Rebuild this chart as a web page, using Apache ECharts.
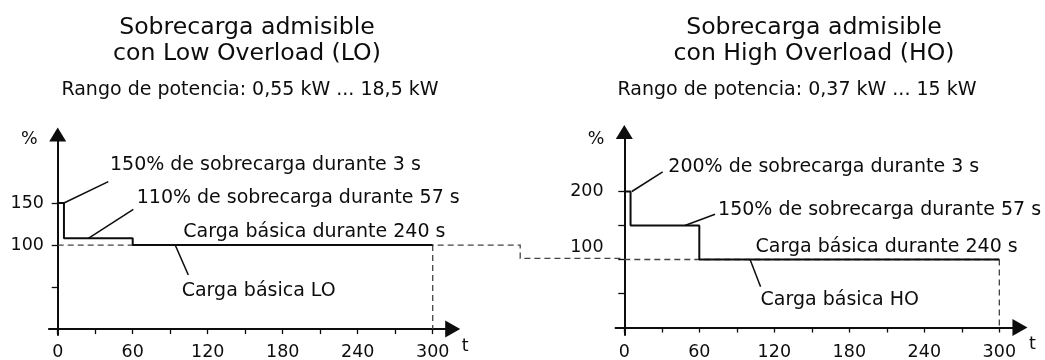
<!DOCTYPE html>
<html>
<head>
<meta charset="utf-8">
<script src="https://cdn.jsdelivr.net/npm/echarts@6/dist/echarts.min.js"></script>
<style>html,body{margin:0;padding:0;background:#fff}#c{width:1045px;height:360px}</style>
</head>
<body>
<div id="c"></div>
<script>
// ---- data ----
const xTickValues = [0, 30, 60, 90, 120, 150, 180, 210, 240, 270, 300];
const xLabelValues = [0, 60, 120, 180, 240, 300];
const loYTickValues = [50, 100, 150];
const loYLabelValues = [100, 150];
const hoYTickValues = [50, 100, 150, 200];
const hoYLabelValues = [100, 200];

const loTime = [0, 5, 5, 60, 60, 300];
const loLoad = [150, 150, 108, 108, 100, 100];
const hoTime = [0, 5, 5, 60, 60, 300];
const hoLoad = [200, 200, 150, 150, 100, 100];

// dashed base-load line of LO, running on into the HO chart
const loBaseTime = [0, 370, 370, 453.3];
const loBaseLoad = [100, 100, 84.2, 84.2];
const hoBaseTime = [0, 300];
const hoBaseLoad = [100, 100];
const cycleEndTime = [300, 300];
const loCycleLoad = [100, 0];
const hoCycleLoad = [100, 0];

// annotations (data-space anchors)
const loNoteText = ['150% de sobrecarga durante 3 s', '110% de sobrecarga durante 57 s', 'Carga básica durante 240 s', 'Carga básica LO'];
const loNoteAt = [[41.8, 195.2], [63.2, 156], [100.5, 115.5], [99.2, 45.2]];
const loLeaders = [[[5, 150], [40.5, 175.4]], [[24.5, 108], [60.5, 142.5]], [[94, 100], [104.5, 64.3]]];
const hoNoteText = ['200% de sobrecarga durante 3 s', '150% de sobrecarga durante 57 s', 'Carga básica durante 240 s', 'Carga básica HO'];
const hoNoteAt = [[35.2, 236], [75, 172], [105, 118.4], [109, 40.4]];
const hoLeaders = [[[6, 200], [30.7, 229]], [[48.5, 150], [72.6, 166.5]], [[100.6, 100], [109, 60]]];

const FONT = 'DejaVu Sans';
const INK = '#0d0d0d';

function zip(a, b) { return a.map((v, i) => [v, b[i]]); }

function xAxisDef(gi, max) {
  return {
    type: 'value', gridIndex: gi, min: -7, max: max,
    name: 't', nameLocation: 'end', nameGap: 9,
    nameTextStyle: { fontFamily: FONT, fontSize: 17.5, color: INK, align: 'left', verticalAlign: 'top', padding: [8, 0, 0, 0] },
    axisLine: { show: true, onZero: true, symbol: ['none', 'triangle'], symbolSize: [17, 15], lineStyle: { color: INK, width: 2 } },
    axisTick: { show: true, customValues: xTickValues, length: 5, lineStyle: { color: INK, width: 1.3 } },
    axisLabel: { show: true, customValues: xLabelValues, margin: 8, fontFamily: FONT, fontSize: 17.5, color: INK },
    splitLine: { show: false }
  };
}
function yAxisDef(gi, min, max, ticks, labels, labelMargin, nameGap, raisedLabel) {
  return {
    type: 'value', gridIndex: gi, min: min, max: max,
    name: '%', nameLocation: 'end', nameGap: nameGap,
    nameTextStyle: { fontFamily: FONT, fontSize: 17.5, color: INK, align: 'right', verticalAlign: 'middle', padding: [0, 20, 0, 0] },
    axisLine: { show: true, onZero: true, symbol: ['none', 'triangle'], symbolSize: [17, 14], lineStyle: { color: INK, width: 2 } },
    axisTick: { show: true, customValues: ticks, length: 6, lineStyle: { color: INK, width: 1.3 } },
    axisLabel: {
      show: true, customValues: labels, margin: labelMargin, fontFamily: FONT, fontSize: 17.5, color: INK,
      formatter: v => (v === raisedLabel ? '{up|' + v + '}' : String(v)),
      rich: { up: { fontFamily: FONT, fontSize: 17.5, color: INK, padding: [0, 0, 24, 0] } }
    },
    splitLine: { show: false }
  };
}
function lineSeries(gi, data, style) {
  return {
    type: 'line', xAxisIndex: gi, yAxisIndex: gi, data: data, symbol: 'none',
    lineStyle: style, silent: true, z: style.type ? 2 : 3
  };
}
// free polyline drawn through the axis scales, not clipped to the grid
function freeLine(gi, data, style) {
  return {
    type: 'custom', xAxisIndex: gi, yAxisIndex: gi, silent: true, clip: false, z: 2,
    data: [data[0]],
    renderItem: function (params, api) {
      return {
        type: 'polyline',
        shape: { points: data.map(p => api.coord(p)) },
        style: { stroke: style.color, lineWidth: style.width, lineDash: style.type, fill: null }
      };
    }
  };
}
function noteSeries(gi, texts, at) {
  return {
    type: 'scatter', xAxisIndex: gi, yAxisIndex: gi, symbolSize: 0, silent: true,
    itemStyle: { opacity: 1 },
    data: at.map((p, i) => ({ value: p, name: texts[i] })),
    label: { show: true, position: 'right', distance: 0, formatter: '{b}', fontFamily: FONT, fontSize: 19, color: INK, opacity: 1 }
  };
}

const solid = { color: INK, width: 2 };
const dashed = { color: '#444', width: 1.3, type: [6, 4] };
const leader = { color: INK, width: 1.5 };

const series = [
  freeLine(0, zip(loBaseTime, loBaseLoad), dashed),
  lineSeries(0, zip(cycleEndTime, loCycleLoad), dashed),
  lineSeries(0, zip(loTime, loLoad), solid),
  ...loLeaders.map(l => lineSeries(0, l, leader)),
  noteSeries(0, loNoteText, loNoteAt),
  lineSeries(1, zip(hoBaseTime, hoBaseLoad), dashed),
  lineSeries(1, zip(cycleEndTime, hoCycleLoad), dashed),
  lineSeries(1, zip(hoTime, hoLoad), solid),
  ...hoLeaders.map(l => lineSeries(1, l, leader)),
  noteSeries(1, hoNoteText, hoNoteAt)
];

const chart = echarts.init(document.getElementById('c'), null, { renderer: 'canvas' });
chart.setOption({
  animation: false,
  backgroundColor: '#fff',
  title: [
    { text: 'Sobrecarga admisible\ncon Low Overload (LO)', left: 247, top: 14.5, padding: 0, textAlign: 'center',
      textStyle: { fontFamily: FONT, fontSize: 23.6, fontWeight: 'normal', color: INK, lineHeight: 26 } },
    { text: 'Rango de potencia: 0,55 kW ... 18,5 kW', left: 250, top: 79, padding: 0, textAlign: 'center',
      textStyle: { fontFamily: FONT, fontSize: 19, fontWeight: 'normal', color: INK, lineHeight: 22 } },
    { text: 'Sobrecarga admisible\ncon High Overload (HO)', left: 814, top: 14.5, padding: 0, textAlign: 'center',
      textStyle: { fontFamily: FONT, fontSize: 23.6, fontWeight: 'normal', color: INK, lineHeight: 26 } },
    { text: 'Rango de potencia: 0,37 kW ... 15 kW', left: 797, top: 79, padding: 0, textAlign: 'center',
      textStyle: { fontFamily: FONT, fontSize: 19, fontWeight: 'normal', color: INK, lineHeight: 22 } }
  ],
  grid: [
    { left: 48.95, top: 134.5, width: 403.75, height: 200.5, containLabel: false, outerBoundsMode: 'none' },
    { left: 615.55, top: 132, width: 404.4, height: 203, containLabel: false, outerBoundsMode: 'none' }
  ],
  xAxis: [xAxisDef(0, 316), xAxisDef(1, 316.5)],
  yAxis: [
    yAxisDef(0, -7, 231.5, loYTickValues, loYLabelValues, 5, -5, null),
    yAxisDef(1, -11, 287.5, hoYTickValues, hoYLabelValues, 12, -7, 100)
  ],
  series: series
});
</script>
</body>
</html>
